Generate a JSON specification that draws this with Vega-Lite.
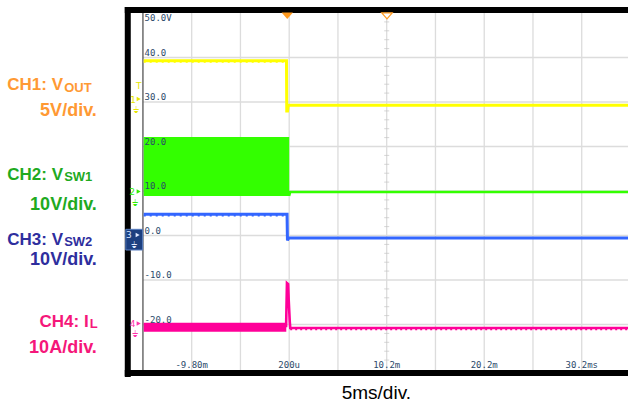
{
  "$schema": "https://vega.github.io/schema/vega-lite/v6.json",
  "width": 634,
  "height": 404,
  "autosize": {"type": "fit", "contains": "padding"},
  "padding": 0,
  "background": "#ffffff",
  "config": {"view": {"stroke": null}, "axis": {"disable": true}, "legend": {"disable": true}},
  "layer": [
    {
      "data": {"values": [{"v": 40}, {"v": 30}, {"v": 20}, {"v": 10}, {"v": 0}, {"v": -10}, {"v": -20}]},
      "mark": {"type": "rule", "color": "#dcdcdc", "strokeWidth": 1.3},
      "encoding": {
        "x": {"datum": -14.8, "type": "quantitative", "scale": {"domain": [-29.459, 34.946], "nice": false, "zero": false}, "axis": null},
        "x2": {"datum": 34.946},
        "y": {"field": "v", "type": "quantitative", "scale": {"domain": [-37.865, 52.921], "nice": false, "zero": false}, "axis": null}
      }
    },
    {
      "data": {"values": [{"t": -9.8}, {"t": -4.8}, {"t": 0.2}, {"t": 5.2}, {"t": 10.2}, {"t": 15.2}, {"t": 20.2}, {"t": 25.2}, {"t": 30.2}]},
      "mark": {"type": "rule", "color": "#dcdcdc", "strokeWidth": 1.3},
      "encoding": {
        "x": {"field": "t", "type": "quantitative", "scale": {"domain": [-29.459, 34.946], "nice": false, "zero": false}, "axis": null},
        "y": {"datum": 50, "type": "quantitative", "scale": {"domain": [-37.865, 52.921], "nice": false, "zero": false}, "axis": null},
        "y2": {"datum": -30.2}
      }
    },
    {
      "data": {"values": [{"v": 48}, {"v": 46}, {"v": 44}, {"v": 42}, {"v": 38}, {"v": 36}, {"v": 34}, {"v": 32}, {"v": 28}, {"v": 26}, {"v": 24}, {"v": 22}, {"v": 18}, {"v": 16}, {"v": 14}, {"v": 12}, {"v": 8}, {"v": 6}, {"v": 4}, {"v": 2}, {"v": -2}, {"v": -4}, {"v": -6}, {"v": -8}, {"v": -12}, {"v": -14}, {"v": -16}, {"v": -18}, {"v": -22}, {"v": -24}, {"v": -26}, {"v": -28}]},
      "mark": {"type": "tick", "orient": "horizontal", "color": "#c4c4c4", "size": 5, "thickness": 1},
      "encoding": {
        "x": {"datum": 10.2, "type": "quantitative", "scale": {"domain": [-29.459, 34.946], "nice": false, "zero": false}, "axis": null},
        "y": {"field": "v", "type": "quantitative", "scale": {"domain": [-37.865, 52.921], "nice": false, "zero": false}, "axis": null}
      }
    },
    {
      "data": {"values": [{}]},
      "mark": {"type": "rule", "color": "#555555", "strokeWidth": 1.3},
      "encoding": {
        "x": {"datum": -14.8, "type": "quantitative", "scale": {"domain": [-29.459, 34.946], "nice": false, "zero": false}, "axis": null},
        "y": {"datum": 50, "type": "quantitative", "scale": {"domain": [-37.865, 52.921], "nice": false, "zero": false}, "axis": null},
        "y2": {"datum": -30.2}
      }
    },
    {
      "data": {"values": [{"t": -14.72, "v": 8.88, "v2": 22.13}, {"t": 0.2, "v": 8.88, "v2": 22.13}]},
      "mark": {"type": "area", "color": "#33ff00", "opacity": 1},
      "encoding": {
        "x": {"field": "t", "type": "quantitative", "scale": {"domain": [-29.459, 34.946], "nice": false, "zero": false}, "axis": null},
        "y": {"field": "v", "type": "quantitative", "scale": {"domain": [-37.865, 52.921], "nice": false, "zero": false}, "axis": null},
        "y2": {"field": "v2"}
      }
    },
    {
      "data": {"values": [{"t": 0.19, "v": 8.9}, {"t": 0.3, "v": 9.78}, {"t": 34.946, "v": 9.78}]},
      "mark": {"type": "line", "color": "#33ff00", "strokeWidth": 2.6},
      "encoding": {
        "x": {"field": "t", "type": "quantitative", "scale": {"domain": [-29.459, 34.946], "nice": false, "zero": false}, "axis": null},
        "y": {"field": "v", "type": "quantitative", "scale": {"domain": [-37.865, 52.921], "nice": false, "zero": false}, "axis": null}
      }
    },
    {
      "data": {"values": [{"t": -14.72, "v": 39.28}, {"t": -0.08, "v": 39.28}, {"t": -0.05, "v": 28.0}, {"t": 0.03, "v": 28.0}, {"t": 0.1, "v": 29.26}, {"t": 34.946, "v": 29.26}]},
      "mark": {"type": "line", "color": "#ffff00", "strokeWidth": 3},
      "encoding": {
        "x": {"field": "t", "type": "quantitative", "scale": {"domain": [-29.459, 34.946], "nice": false, "zero": false}, "axis": null},
        "y": {"field": "v", "type": "quantitative", "scale": {"domain": [-37.865, 52.921], "nice": false, "zero": false}, "axis": null}
      }
    },
    {
      "data": {"values": [{"t": -14.72, "v": 39.0}, {"t": -0.1, "v": 39.0}]},
      "mark": {"type": "line", "color": "#ffff00", "strokeWidth": 1.5, "strokeDash": [2, 4]},
      "encoding": {
        "x": {"field": "t", "type": "quantitative", "scale": {"domain": [-29.459, 34.946], "nice": false, "zero": false}, "axis": null},
        "y": {"field": "v", "type": "quantitative", "scale": {"domain": [-37.865, 52.921], "nice": false, "zero": false}, "axis": null}
      }
    },
    {
      "data": {"values": [{"t": -14.72, "v": 4.8}, {"t": -0.02, "v": 4.8}, {"t": 0.02, "v": -1.1}, {"t": 0.15, "v": -0.55}, {"t": 34.946, "v": -0.55}]},
      "mark": {"type": "line", "color": "#3366ff", "strokeWidth": 3},
      "encoding": {
        "x": {"field": "t", "type": "quantitative", "scale": {"domain": [-29.459, 34.946], "nice": false, "zero": false}, "axis": null},
        "y": {"field": "v", "type": "quantitative", "scale": {"domain": [-37.865, 52.921], "nice": false, "zero": false}, "axis": null}
      }
    },
    {
      "data": {"values": [{"t": -14.72, "v": 4.45}, {"t": -0.1, "v": 4.45}]},
      "mark": {"type": "line", "color": "#3366ff", "strokeWidth": 1.5, "strokeDash": [2, 4]},
      "encoding": {
        "x": {"field": "t", "type": "quantitative", "scale": {"domain": [-29.459, 34.946], "nice": false, "zero": false}, "axis": null},
        "y": {"field": "v", "type": "quantitative", "scale": {"domain": [-37.865, 52.921], "nice": false, "zero": false}, "axis": null}
      }
    },
    {
      "data": {"values": [{"t": -14.72, "v": -21.62, "v2": -19.6}, {"t": -0.1, "v": -21.62, "v2": -19.6}]},
      "mark": {"type": "area", "color": "#ff0099", "opacity": 1},
      "encoding": {
        "x": {"field": "t", "type": "quantitative", "scale": {"domain": [-29.459, 34.946], "nice": false, "zero": false}, "axis": null},
        "y": {"field": "v", "type": "quantitative", "scale": {"domain": [-37.865, 52.921], "nice": false, "zero": false}, "axis": null},
        "y2": {"field": "v2"}
      }
    },
    {
      "data": {"values": [{"t": -0.12, "v": -20.6}, {"t": -0.03, "v": -10.67}, {"t": 0.09, "v": -10.9}, {"t": 0.15, "v": -14.5}, {"t": 0.26, "v": -19.4}, {"t": 0.31, "v": -20.79}, {"t": 34.946, "v": -20.79}]},
      "mark": {"type": "line", "color": "#ff0099", "strokeWidth": 2.6},
      "encoding": {
        "x": {"field": "t", "type": "quantitative", "scale": {"domain": [-29.459, 34.946], "nice": false, "zero": false}, "axis": null},
        "y": {"field": "v", "type": "quantitative", "scale": {"domain": [-37.865, 52.921], "nice": false, "zero": false}, "axis": null}
      }
    },
    {
      "data": {"values": [{"t": 0.3, "v": -21.15}, {"t": 34.946, "v": -21.15}]},
      "mark": {"type": "line", "color": "#ff0099", "strokeWidth": 1.2, "strokeDash": [2, 3]},
      "encoding": {
        "x": {"field": "t", "type": "quantitative", "scale": {"domain": [-29.459, 34.946], "nice": false, "zero": false}, "axis": null},
        "y": {"field": "v", "type": "quantitative", "scale": {"domain": [-37.865, 52.921], "nice": false, "zero": false}, "axis": null}
      }
    },
    {
      "data": {"values": [{"t": -14.63, "v": 48.2, "label": "50.0V"}, {"t": -14.63, "v": 40.35, "label": "40.0"}, {"t": -14.63, "v": 30.35, "label": "30.0"}, {"t": -14.63, "v": 20.35, "label": "20.0"}, {"t": -14.63, "v": 10.35, "label": "10.0"}, {"t": -14.63, "v": 0.35, "label": "0.0"}, {"t": -14.63, "v": -9.65, "label": "-10.0"}, {"t": -14.63, "v": -19.65, "label": "-20.0"}]},
      "mark": {"type": "text", "align": "left", "baseline": "alphabetic", "font": "DejaVu Sans Mono", "fontSize": 9, "color": "#2c4a6b"},
      "encoding": {
        "x": {"field": "t", "type": "quantitative", "scale": {"domain": [-29.459, 34.946], "nice": false, "zero": false}, "axis": null},
        "y": {"field": "v", "type": "quantitative", "scale": {"domain": [-37.865, 52.921], "nice": false, "zero": false}, "axis": null},
        "text": {"field": "label"}
      }
    },
    {
      "data": {"values": [{"t": -9.8, "v": -29.85, "label": "-9.80m"}, {"t": 0.2, "v": -29.85, "label": "200u"}, {"t": 10.2, "v": -29.85, "label": "10.2m"}, {"t": 20.2, "v": -29.85, "label": "20.2m"}, {"t": 30.2, "v": -29.85, "label": "30.2ms"}]},
      "mark": {"type": "text", "align": "center", "baseline": "alphabetic", "font": "DejaVu Sans Mono", "fontSize": 9, "color": "#2c4a6b"},
      "encoding": {
        "x": {"field": "t", "type": "quantitative", "scale": {"domain": [-29.459, 34.946], "nice": false, "zero": false}, "axis": null},
        "y": {"field": "v", "type": "quantitative", "scale": {"domain": [-37.865, 52.921], "nice": false, "zero": false}, "axis": null},
        "text": {"field": "label"}
      }
    },
    {
      "data": {"values": [{}]},
      "mark": {"type": "rule", "color": "#000000", "strokeWidth": 6},
      "encoding": {
        "x": {"datum": -16.355, "type": "quantitative", "scale": {"domain": [-29.459, 34.946], "nice": false, "zero": false}, "axis": null},
        "y": {"datum": 51.35, "type": "quantitative", "scale": {"domain": [-37.865, 52.921], "nice": false, "zero": false}, "axis": null},
        "y2": {"datum": -31.8}
      }
    },
    {
      "data": {"values": [{"v": 50.674}, {"v": -30.9}]},
      "mark": {"type": "rule", "color": "#000000", "strokeWidth": 6},
      "encoding": {
        "x": {"datum": -16.66, "type": "quantitative", "scale": {"domain": [-29.459, 34.946], "nice": false, "zero": false}, "axis": null},
        "x2": {"datum": 34.946},
        "y": {"field": "v", "type": "quantitative", "scale": {"domain": [-37.865, 52.921], "nice": false, "zero": false}, "axis": null}
      }
    },
    {
      "data": {"values": [{"t": 0.0, "v": 49.4}]},
      "mark": {"type": "point", "shape": "M-1,-0.55L1,-0.55L0,0.6Z", "filled": true, "color": "#ff9a1f", "size": 130, "opacity": 1},
      "encoding": {
        "x": {"field": "t", "type": "quantitative", "scale": {"domain": [-29.459, 34.946], "nice": false, "zero": false}, "axis": null},
        "y": {"field": "v", "type": "quantitative", "scale": {"domain": [-37.865, 52.921], "nice": false, "zero": false}, "axis": null}
      }
    },
    {
      "data": {"values": [{"t": 10.23, "v": 49.4}]},
      "mark": {"type": "point", "shape": "M-1,-0.55L1,-0.55L0,0.6Z", "filled": false, "color": "#ff9a1f", "fill": "#ffffff", "fillOpacity": 1, "strokeWidth": 1.2, "size": 110, "opacity": 1},
      "encoding": {
        "x": {"field": "t", "type": "quantitative", "scale": {"domain": [-29.459, 34.946], "nice": false, "zero": false}, "axis": null},
        "y": {"field": "v", "type": "quantitative", "scale": {"domain": [-37.865, 52.921], "nice": false, "zero": false}, "axis": null}
      }
    },
    {
      "data": {"values": [{}]},
      "mark": {"type": "rect", "color": "#1c3f80", "stroke": "#5a7fc0", "strokeWidth": 1},
      "encoding": {
        "x": {"datum": -16.558, "type": "quantitative", "scale": {"domain": [-29.459, 34.946], "nice": false, "zero": false}, "axis": null},
        "x2": {"datum": -14.83},
        "y": {"datum": 1.39, "type": "quantitative", "scale": {"domain": [-37.865, 52.921], "nice": false, "zero": false}, "axis": null},
        "y2": {"datum": -3.26}
      }
    },
    {
      "data": {"values": [{"t": -15.796, "v": 30.5, "label": "1", "ch": "CH1"}, {"t": -15.237, "v": 33.6, "label": "T", "ch": "CH1"}, {"t": -15.898, "v": 9.775, "label": "2", "ch": "CH2"}, {"t": -16.253, "v": 0.11, "label": "3", "ch": "CH3"}, {"t": -15.847, "v": -19.89, "label": "4", "ch": "CH4"}]},
      "mark": {"type": "text", "align": "center", "baseline": "middle", "font": "DejaVu Sans", "fontSize": 9},
      "encoding": {
        "x": {"field": "t", "type": "quantitative", "scale": {"domain": [-29.459, 34.946], "nice": false, "zero": false}, "axis": null},
        "y": {"field": "v", "type": "quantitative", "scale": {"domain": [-37.865, 52.921], "nice": false, "zero": false}, "axis": null},
        "text": {"field": "label"},
        "fill": {"field": "ch", "type": "nominal", "scale": {"domain": ["CH1", "CH2", "CH3", "CH4"], "range": ["#e6e600", "#33ee00", "#dfe8ff", "#ff33aa"]}, "legend": null}
      }
    },
    {
      "data": {"values": [{"t": -15.237, "v": 30.67, "ch": "CH1"}, {"t": -15.237, "v": 9.89, "ch": "CH2"}, {"t": -15.339, "v": 0.11, "ch": "CH3"}, {"t": -15.237, "v": -19.78, "ch": "CH4"}]},
      "mark": {"type": "point", "shape": "triangle-right", "filled": true, "size": 22, "opacity": 1},
      "encoding": {
        "x": {"field": "t", "type": "quantitative", "scale": {"domain": [-29.459, 34.946], "nice": false, "zero": false}, "axis": null},
        "y": {"field": "v", "type": "quantitative", "scale": {"domain": [-37.865, 52.921], "nice": false, "zero": false}, "axis": null},
        "fill": {"field": "ch", "type": "nominal", "scale": {"domain": ["CH1", "CH2", "CH3", "CH4"], "range": ["#e6e600", "#33ee00", "#dfe8ff", "#ff33aa"]}, "legend": null}
      }
    },
    {
      "data": {"values": [{"t": -15.542, "v": 28.3, "label": "⏚", "ch": "CH1"}, {"t": -15.643, "v": 7.4, "label": "⏚", "ch": "CH2"}, {"t": -15.745, "v": -2.13, "label": "⏚", "ch": "CH3"}, {"t": -15.643, "v": -22.2, "label": "⏚", "ch": "CH4"}]},
      "mark": {"type": "text", "align": "center", "baseline": "middle", "font": "DejaVu Sans", "fontSize": 9},
      "encoding": {
        "x": {"field": "t", "type": "quantitative", "scale": {"domain": [-29.459, 34.946], "nice": false, "zero": false}, "axis": null},
        "y": {"field": "v", "type": "quantitative", "scale": {"domain": [-37.865, 52.921], "nice": false, "zero": false}, "axis": null},
        "text": {"field": "label"},
        "fill": {"field": "ch", "type": "nominal", "scale": {"domain": ["CH1", "CH2", "CH3", "CH4"], "range": ["#e6e600", "#33ee00", "#dfe8ff", "#ff33aa"]}, "legend": null}
      }
    },
    {
      "data": {"values": [{"t": -23.0, "v": 32.63, "label": "CH1: V", "ch": "CH1"}, {"t": -23.0, "v": 12.47, "label": "CH2: V", "ch": "CH2"}, {"t": -23.0, "v": -2.13, "label": "CH3: V", "ch": "CH3"}, {"t": -20.37, "v": -20.49, "label": "CH4: I", "ch": "CH4"}]},
      "mark": {"type": "text", "align": "right", "baseline": "alphabetic", "font": "Liberation Sans", "fontWeight": "bold", "fontSize": 17},
      "encoding": {
        "x": {"field": "t", "type": "quantitative", "scale": {"domain": [-29.459, 34.946], "nice": false, "zero": false}, "axis": null},
        "y": {"field": "v", "type": "quantitative", "scale": {"domain": [-37.865, 52.921], "nice": false, "zero": false}, "axis": null},
        "text": {"field": "label"},
        "color": {"field": "ch", "type": "nominal", "scale": {"domain": ["CH1", "CH2", "CH3", "CH4"], "range": ["#ff9933", "#1faa1f", "#2e2e9e", "#f5177a"]}, "legend": null}
      }
    },
    {
      "data": {"values": [{"t": -22.88, "v": 32.3, "label": "OUT", "ch": "CH1"}, {"t": -22.88, "v": 12.15, "label": "SW1", "ch": "CH2"}, {"t": -22.88, "v": -2.45, "label": "SW2", "ch": "CH3"}, {"t": -20.25, "v": -20.8, "label": "L", "ch": "CH4"}]},
      "mark": {"type": "text", "align": "left", "baseline": "alphabetic", "font": "Liberation Sans", "fontWeight": "bold", "fontSize": 13},
      "encoding": {
        "x": {"field": "t", "type": "quantitative", "scale": {"domain": [-29.459, 34.946], "nice": false, "zero": false}, "axis": null},
        "y": {"field": "v", "type": "quantitative", "scale": {"domain": [-37.865, 52.921], "nice": false, "zero": false}, "axis": null},
        "text": {"field": "label"},
        "color": {"field": "ch", "type": "nominal", "scale": {"domain": ["CH1", "CH2", "CH3", "CH4"], "range": ["#ff9933", "#1faa1f", "#2e2e9e", "#f5177a"]}, "legend": null}
      }
    },
    {
      "data": {"values": [{"t": -19.53, "v": 26.85, "label": "5V/div.", "ch": "CH1"}, {"t": -19.53, "v": 5.73, "label": "10V/div.", "ch": "CH2"}, {"t": -19.53, "v": -6.63, "label": "10V/div.", "ch": "CH3"}, {"t": -19.53, "v": -26.47, "label": "10A/div.", "ch": "CH4"}]},
      "mark": {"type": "text", "align": "right", "baseline": "alphabetic", "font": "Liberation Sans", "fontWeight": "bold", "fontSize": 18},
      "encoding": {
        "x": {"field": "t", "type": "quantitative", "scale": {"domain": [-29.459, 34.946], "nice": false, "zero": false}, "axis": null},
        "y": {"field": "v", "type": "quantitative", "scale": {"domain": [-37.865, 52.921], "nice": false, "zero": false}, "axis": null},
        "text": {"field": "label"},
        "color": {"field": "ch", "type": "nominal", "scale": {"domain": ["CH1", "CH2", "CH3", "CH4"], "range": ["#ff9933", "#1faa1f", "#2e2e9e", "#f5177a"]}, "legend": null}
      }
    },
    {
      "data": {"values": [{"t": 9.14, "v": -36.74, "label": "5ms/div."}]},
      "mark": {"type": "text", "align": "center", "baseline": "alphabetic", "font": "Liberation Sans", "fontSize": 19, "color": "#000000"},
      "encoding": {
        "x": {"field": "t", "type": "quantitative", "scale": {"domain": [-29.459, 34.946], "nice": false, "zero": false}, "axis": null},
        "y": {"field": "v", "type": "quantitative", "scale": {"domain": [-37.865, 52.921], "nice": false, "zero": false}, "axis": null},
        "text": {"field": "label"}
      }
    }
  ]
}
